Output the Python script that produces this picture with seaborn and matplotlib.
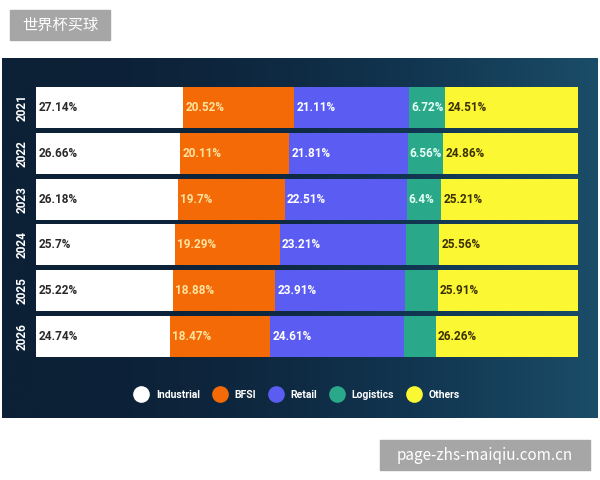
import matplotlib
matplotlib.use("Agg")
import matplotlib.pyplot as plt
from matplotlib.lines import Line2D
from matplotlib.patches import Rectangle
import seaborn as sns
import pandas as pd
import numpy as np

years = ["2021", "2022", "2023", "2024", "2025", "2026"]
segments = ["Industrial", "BFSI", "Retail", "Logistics", "Others"]
industrial = [27.14, 26.66, 26.18, 25.7, 25.22, 24.74]
bfsi = [20.52, 20.11, 19.7, 19.29, 18.88, 18.47]
retail = [21.11, 21.81, 22.51, 23.21, 23.91, 24.61]
logistics = [6.72, 6.56, 6.4, 6.24, 6.08, 5.92]
others = [24.51, 24.86, 25.21, 25.56, 25.91, 26.26]
# logistics labels only printed for the first three years
logistics_labels = ["6.72%", "6.56%", "6.4%", "", "", ""]

colors = ["#ffffff", "#f46a06", "#5b5cf2", "#2aa98a", "#fbf733"]
text_colors = ["#2a2a2a", "#ffe3a0", "#ffffff", "#e6fff6", "#3a3000"]

df = pd.DataFrame({"year": years, "Industrial": industrial, "BFSI": bfsi,
                   "Retail": retail, "Logistics": logistics, "Others": others})
cum = df[segments].cumsum(axis=1)
starts = cum - df[segments]

fig = plt.figure(figsize=(6, 4.8), dpi=100)
fig.patch.set_facecolor("white")

# dark panel behind the chart
bg = fig.add_axes([2 / 600, 1 - 418 / 480, 596 / 600, 360 / 480])
grad = np.linspace(0, 1, 256)[None, :] ** 2
bg.imshow(grad, aspect="auto", extent=[0, 1, 0, 1],
          cmap=matplotlib.colors.LinearSegmentedColormap.from_list("bgc", ["#0c2036", "#123752", "#1b4d68"]))
bg.set_axis_off()

ax = fig.add_axes([36 / 600, 1 - 359 / 480, 542 / 600, 274 / 480])
ax.patch.set_alpha(0)

# stacked bars: draw cumulative totals from the back
for seg, col in reversed(list(zip(segments, colors))):
    sns.barplot(x=cum[seg], y=df["year"], orient="h", color=col, width=0.9,
                ax=ax, saturation=1, linewidth=0)

for i in range(len(years)):
    for j, seg in enumerate(segments):
        if seg == "Logistics":
            lab = logistics_labels[i]
        else:
            lab = f"{df[seg][i]:g}%"
        if lab:
            ax.text(starts[seg][i] + 0.4, i, lab, va="center", ha="left",
                    fontsize=8.5, fontweight="bold", color=text_colors[j],
                    family="Roboto")

ax.set_xlim(0, 100)
ax.set_ylim(5.5, -0.5)
ax.set_xlabel("")
ax.set_ylabel("")
ax.set_xticks([])
ax.tick_params(axis="y", length=0, pad=5)
ax.set_yticks(range(len(years)))
ax.set_yticklabels(years, rotation=90, va="center", color="white",
                   fontweight="bold", fontsize=8.5, family="Roboto")
for s in ax.spines.values():
    s.set_visible(False)

handles = [Line2D([0], [0], marker="o", linestyle="", markersize=12,
                  markerfacecolor=c, markeredgewidth=0) for c in colors]
fig.legend(handles, segments, loc="center", bbox_to_anchor=(0.492, 1 - 395 / 480),
           ncol=5, frameon=False, handletextpad=0.4, columnspacing=0.9,
           labelcolor="white", prop={"family": "Roboto", "size": 7.5, "weight": "bold"})

# gray caption boxes
fig.patches.append(Rectangle((10 / 600, 1 - 40 / 480), 100 / 600, 30 / 480,
                             transform=fig.transFigure, color="#a6a6a6", zorder=5))
fig.text(60 / 600, 1 - 25 / 480, "世界杯买球", ha="center", va="center", color="white",
         fontsize=11, family=["Noto Sans CJK SC", "DejaVu Sans"], zorder=6)
fig.patches.append(Rectangle((380 / 600, 1 - 470 / 480), 210 / 600, 30 / 480,
                             transform=fig.transFigure, color="#a6a6a6", zorder=5))
fig.text(485 / 600, 1 - 455 / 480, "page-zhs-maiqiu.com.cn", ha="center", va="center",
         color="white", fontsize=11, family=["Noto Sans CJK SC", "DejaVu Sans"], zorder=6)

fig.savefig("out.png", dpi=100)
